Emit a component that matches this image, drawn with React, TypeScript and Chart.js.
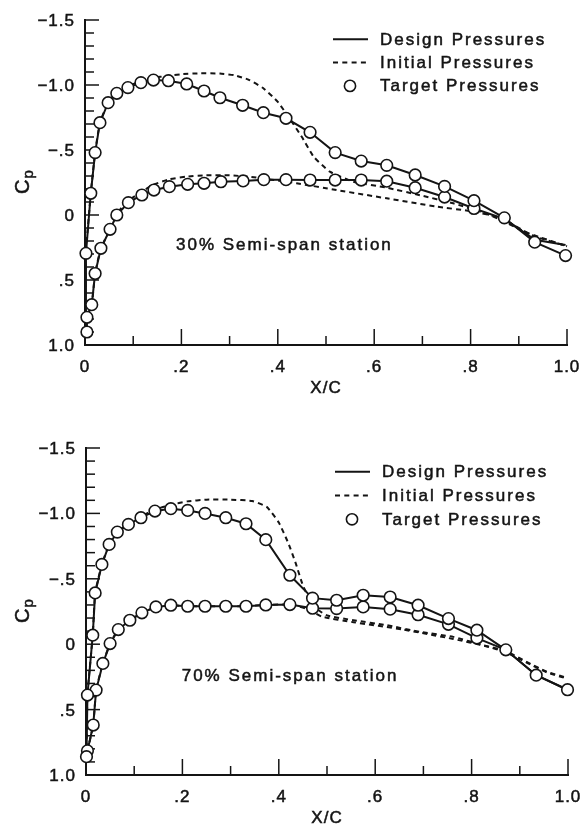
import React, { useEffect, useRef } from "react";
import { Chart, registerables } from "chart.js";

Chart.register(...registerables);

const FONT = '"Liberation Sans", Arial, Helvetica, sans-serif';
const INK = "#141414";

// Axis ticks and labels
const yTickValues = [-1.5, -1.0, -0.5, 0, 0.5, 1.0];
const yTickLabels = ["\u22121.5", "\u22121.0", "\u2212.5", "0", ".5", "1.0"];
const xTickValues = [0, 0.2, 0.4, 0.6, 0.8, 1.0];
const xTickLabels = ["0", ".2", ".4", ".6", ".8", "1.0"];
const legendLabels = ["Design Pressures", "Initial Pressures", "Target Pressures"];

// ---------- 30% semi-span station ----------
const s30TargetUpperX = [0.004, 0.002, 0.012, 0.021, 0.031, 0.048, 0.066, 0.089, 0.116, 0.142, 0.173, 0.211, 0.247, 0.280, 0.327, 0.370, 0.417, 0.467, 0.519, 0.573, 0.626, 0.685, 0.746, 0.807, 0.870, 0.933, 0.997];
const s30TargetUpperCp = [0.90, 0.295, -0.167, -0.48, -0.71, -0.864, -0.936, -0.98, -1.018, -1.038, -1.033, -1.008, -0.954, -0.902, -0.844, -0.787, -0.744, -0.636, -0.48, -0.415, -0.382, -0.308, -0.22, -0.11, 0.022, 0.209, 0.312];
const s30TargetLowerX = [0.004, 0.014, 0.021, 0.033, 0.052, 0.066, 0.090, 0.118, 0.143, 0.175, 0.213, 0.247, 0.282, 0.328, 0.371, 0.417, 0.467, 0.519, 0.573, 0.626, 0.685, 0.746, 0.807];
const s30TargetLowerCp = [0.787, 0.69, 0.45, 0.256, 0.11, 0.0, -0.095, -0.154, -0.192, -0.218, -0.236, -0.244, -0.256, -0.262, -0.272, -0.272, -0.269, -0.269, -0.269, -0.26, -0.21, -0.138, -0.05];

const s30DesignUpperX = [0.0, 0.002, 0.012, 0.021, 0.031, 0.048, 0.066, 0.089, 0.116, 0.142, 0.173, 0.211, 0.247, 0.280, 0.327, 0.370, 0.417, 0.467, 0.519, 0.573, 0.626, 0.685, 0.746, 0.807, 0.870, 0.933, 0.997];
const s30DesignUpperCp = [0.90, 0.295, -0.167, -0.48, -0.71, -0.864, -0.936, -0.98, -1.018, -1.038, -1.033, -1.008, -0.954, -0.902, -0.844, -0.787, -0.744, -0.636, -0.48, -0.415, -0.382, -0.308, -0.22, -0.11, 0.022, 0.209, 0.312];
const s30DesignLowerX = [0.004, 0.004, 0.014, 0.021, 0.033, 0.052, 0.066, 0.090, 0.118, 0.143, 0.175, 0.213, 0.247, 0.282, 0.328, 0.371, 0.417, 0.467, 0.519, 0.573, 0.626, 0.685, 0.746, 0.807, 0.870, 0.933, 0.997];
const s30DesignLowerCp = [0.90, 0.787, 0.69, 0.45, 0.256, 0.11, 0.0, -0.095, -0.154, -0.192, -0.218, -0.236, -0.244, -0.256, -0.262, -0.272, -0.272, -0.269, -0.269, -0.269, -0.26, -0.21, -0.138, -0.05, 0.03, 0.19, 0.23];

const s30InitialUpperX = [0.0, 0.002, 0.012, 0.021, 0.031, 0.048, 0.066, 0.089, 0.116, 0.142, 0.17, 0.20, 0.24, 0.28, 0.31, 0.34, 0.37, 0.40, 0.425, 0.45, 0.474, 0.508, 0.557, 0.626, 0.695, 0.764, 0.84, 0.92, 1.0];
const s30InitialUpperCp = [0.90, 0.295, -0.167, -0.48, -0.71, -0.866, -0.94, -0.99, -1.03, -1.055, -1.07, -1.083, -1.09, -1.088, -1.075, -1.04, -0.975, -0.87, -0.74, -0.60, -0.45, -0.333, -0.256, -0.21, -0.152, -0.09, 0.0, 0.14, 0.24];
const s30InitialLowerX = [0.004, 0.004, 0.014, 0.021, 0.033, 0.052, 0.066, 0.090, 0.118, 0.143, 0.175, 0.21, 0.25, 0.30, 0.34, 0.38, 0.439, 0.522, 0.626, 0.73, 0.80, 0.86, 0.93, 1.0];
const s30InitialLowerCp = [0.90, 0.787, 0.69, 0.45, 0.256, 0.11, -0.01, -0.11, -0.18, -0.235, -0.275, -0.295, -0.305, -0.305, -0.295, -0.275, -0.244, -0.192, -0.128, -0.064, -0.03, 0.02, 0.16, 0.24];

// ---------- 70% semi-span station ----------
const s70TargetUpperX = [0.001, 0.003, 0.014, 0.019, 0.033, 0.048, 0.065, 0.088, 0.114, 0.143, 0.176, 0.211, 0.247, 0.290, 0.332, 0.373, 0.423, 0.470, 0.520, 0.575, 0.631, 0.689, 0.752, 0.811, 0.871, 0.934, 0.999];
const s70TargetUpperCp = [0.86, 0.389, -0.069, -0.392, -0.61, -0.763, -0.857, -0.916, -0.967, -1.018, -1.036, -1.023, -1.0, -0.967, -0.921, -0.799, -0.527, -0.352, -0.336, -0.374, -0.361, -0.298, -0.196, -0.107, 0.043, 0.237, 0.348];
const s70TargetLowerX = [0.003, 0.015, 0.021, 0.035, 0.050, 0.067, 0.091, 0.116, 0.145, 0.176, 0.211, 0.247, 0.290, 0.332, 0.373, 0.423, 0.470, 0.520, 0.575, 0.631, 0.689, 0.752, 0.811];
const s70TargetLowerCp = [0.815, 0.618, 0.351, 0.147, -0.005, -0.112, -0.183, -0.24, -0.285, -0.298, -0.29, -0.29, -0.29, -0.29, -0.30, -0.303, -0.275, -0.272, -0.285, -0.268, -0.225, -0.152, -0.047];

const s70DesignUpperX = [0.001, 0.003, 0.014, 0.019, 0.033, 0.048, 0.065, 0.088, 0.114, 0.143, 0.176, 0.211, 0.247, 0.290, 0.332, 0.373, 0.423, 0.470, 0.520, 0.575, 0.631, 0.689, 0.752, 0.811, 0.871, 0.934, 0.999];
const s70DesignUpperCp = [0.86, 0.389, -0.069, -0.392, -0.61, -0.763, -0.857, -0.916, -0.967, -1.018, -1.036, -1.023, -1.0, -0.967, -0.921, -0.799, -0.527, -0.352, -0.336, -0.374, -0.361, -0.298, -0.196, -0.107, 0.043, 0.237, 0.348];
const s70DesignLowerX = [0.001, 0.003, 0.015, 0.021, 0.035, 0.050, 0.067, 0.091, 0.116, 0.145, 0.176, 0.211, 0.247, 0.290, 0.332, 0.373, 0.423, 0.470, 0.520, 0.575, 0.631, 0.689, 0.752, 0.811, 0.871, 0.934, 0.999];
const s70DesignLowerCp = [0.86, 0.815, 0.618, 0.351, 0.147, -0.005, -0.112, -0.183, -0.24, -0.285, -0.298, -0.29, -0.29, -0.29, -0.29, -0.30, -0.303, -0.275, -0.272, -0.285, -0.268, -0.225, -0.152, -0.047, 0.043, 0.237, 0.348];

const s70InitialUpperX = [0.001, 0.003, 0.014, 0.019, 0.033, 0.048, 0.065, 0.088, 0.114, 0.143, 0.176, 0.21, 0.25, 0.30, 0.345, 0.375, 0.40, 0.42, 0.435, 0.45, 0.472, 0.50, 0.555, 0.624, 0.693, 0.762, 0.824, 0.87, 0.914, 0.956, 0.995];
const s70InitialUpperCp = [0.86, 0.389, -0.069, -0.392, -0.61, -0.763, -0.857, -0.92, -0.975, -1.03, -1.065, -1.092, -1.105, -1.105, -1.095, -1.05, -0.93, -0.77, -0.62, -0.45, -0.29, -0.22, -0.183, -0.145, -0.094, -0.056, 0.008, 0.05, 0.135, 0.21, 0.254];
const s70InitialLowerX = [0.003, 0.015, 0.021, 0.035, 0.050, 0.067, 0.091, 0.116, 0.145, 0.176, 0.211, 0.25, 0.29, 0.33, 0.373, 0.423, 0.458, 0.49, 0.555, 0.658, 0.762, 0.83, 0.87, 0.914, 0.956, 0.995];
const s70InitialLowerCp = [0.815, 0.618, 0.351, 0.147, -0.005, -0.112, -0.183, -0.24, -0.285, -0.298, -0.29, -0.29, -0.29, -0.29, -0.30, -0.303, -0.27, -0.21, -0.168, -0.112, -0.04, 0.015, 0.06, 0.14, 0.215, 0.26];

function pts(xs: number[], cps: number[]) {
  return xs.map((x, i) => ({ x, y: cps[i] }));
}

function setSpacing(ctx: any, px: number) {
  if ("letterSpacing" in ctx) ctx.letterSpacing = `${px}px`;
}

// Filled text with a hairline stroke, giving the heavier print weight
function inkText(ctx: any, text: string, x: number, y: number) {
  ctx.fillText(text, x, y);
  ctx.lineWidth = 0.5;
  ctx.strokeText(text, x, y);
}

// Axes, ticks, labels, legend and station caption, drawn against the chart's scales
const paperPlugin = {
  id: "paper",
  beforeDatasetsDraw(chart: any) {
    const { ctx } = chart;
    const xs = chart.scales.x;
    const ys = chart.scales.y;
    const left = xs.getPixelForValue(0);
    const right = xs.getPixelForValue(1);
    const top = ys.getPixelForValue(-1.5);
    const bottom = ys.getPixelForValue(1.0);
    ctx.save();
    ctx.strokeStyle = INK;
    ctx.fillStyle = INK;
    ctx.lineCap = "butt";

    ctx.lineWidth = 1.5;
    for (let k = -15; k <= 10; k++) {
      const py = ys.getPixelForValue(k / 10);
      const len = k % 5 === 0 ? 14 : 9;
      ctx.beginPath();
      ctx.moveTo(left, py);
      ctx.lineTo(left + len, py);
      ctx.stroke();
    }
    for (let k = 1; k <= 10; k++) {
      const px = xs.getPixelForValue(k / 10);
      const len = k % 2 === 0 ? 16 : 9;
      ctx.beginPath();
      ctx.moveTo(px, bottom);
      ctx.lineTo(px, bottom - len);
      ctx.stroke();
    }

    ctx.lineWidth = 2;
    ctx.beginPath();
    ctx.moveTo(left, top - 1);
    ctx.lineTo(left, bottom);
    ctx.lineTo(right + 1, bottom);
    ctx.stroke();

    ctx.font = `17px ${FONT}`;
    setSpacing(ctx, 1);
    ctx.textBaseline = "alphabetic";
    ctx.textAlign = "right";
    yTickValues.forEach((v, i) => {
      inkText(ctx, yTickLabels[i], left - 10, ys.getPixelForValue(v) + 6);
    });
    ctx.textAlign = "center";
    xTickValues.forEach((v, i) => {
      inkText(ctx, xTickLabels[i], xs.getPixelForValue(v), bottom + 27);
    });
    inkText(ctx, "X/C", (left + right) / 2, bottom + 48);

    // rotated C with subscript p
    setSpacing(ctx, 0);
    ctx.save();
    ctx.translate(29, (top + bottom) / 2);
    ctx.rotate(-Math.PI / 2);
    ctx.textAlign = "left";
    ctx.font = `20px ${FONT}`;
    const wC = ctx.measureText("C").width;
    ctx.font = `15px ${FONT}`;
    const wP = ctx.measureText("p").width;
    const start = -(wC + wP) / 2;
    ctx.font = `20px ${FONT}`;
    inkText(ctx, "C", start, 0);
    ctx.font = `15px ${FONT}`;
    inkText(ctx, "p", start + wC + 1, 4);
    ctx.restore();
    ctx.restore();
  },
  afterDatasetsDraw(chart: any, _args: any, opts: any) {
    const { ctx } = chart;
    ctx.save();
    ctx.strokeStyle = INK;
    ctx.fillStyle = INK;
    const lx = opts.legendX;
    const sampleW = 35;
    legendLabels.forEach((label, i) => {
      const ry = opts.legendY + i * opts.legendStep;
      ctx.lineWidth = 2;
      if (i === 0) {
        ctx.setLineDash([]);
        ctx.beginPath();
        ctx.moveTo(lx, ry);
        ctx.lineTo(lx + sampleW, ry);
        ctx.stroke();
      } else if (i === 1) {
        ctx.setLineDash([5, 4.3]);
        ctx.beginPath();
        ctx.moveTo(lx, ry);
        ctx.lineTo(lx + sampleW, ry);
        ctx.stroke();
        ctx.setLineDash([]);
      } else {
        ctx.lineWidth = 1.6;
        ctx.fillStyle = "#fff";
        ctx.beginPath();
        ctx.arc(lx + 17, ry, 5.6, 0, Math.PI * 2);
        ctx.fill();
        ctx.stroke();
        ctx.fillStyle = INK;
      }
      ctx.font = `17px ${FONT}`;
      setSpacing(ctx, 2);
      ctx.textAlign = "left";
      ctx.textBaseline = "alphabetic";
      inkText(ctx, label, lx + 47, ry + 5.5);
      setSpacing(ctx, 0);
    });
    ctx.font = `17px ${FONT}`;
    setSpacing(ctx, 2);
    ctx.textAlign = "left";
    inkText(ctx, opts.station, opts.stationX, opts.stationY);
    ctx.restore();
  },
};

type PanelProps = {
  designUpper: { x: number; y: number }[];
  designLower: { x: number; y: number }[];
  initialUpper: { x: number; y: number }[];
  initialLower: { x: number; y: number }[];
  targetUpper: { x: number; y: number }[];
  targetLower: { x: number; y: number }[];
  width: number;
  height: number;
  padding: { left: number; right: number; top: number; bottom: number };
  decor: any;
};

function lineSet(data: any[], dashed: boolean) {
  return {
    data,
    showLine: true,
    borderColor: INK,
    borderWidth: 2,
    borderDash: dashed ? [5, 4] : [],
    pointRadius: 0,
    tension: dashed ? 0.15 : 0,
    fill: false,
    clip: false,
    order: dashed ? 3 : 2,
  };
}

function targetSet(data: any[]) {
  return {
    data,
    showLine: false,
    pointRadius: 5.8,
    pointBorderWidth: 1.6,
    borderWidth: 1.6,
    pointBackgroundColor: "#ffffff",
    backgroundColor: "#ffffff",
    pointBorderColor: INK,
    borderColor: INK,
    clip: false,
    order: 1,
  };
}

function PressurePanel(props: PanelProps) {
  const ref = useRef<HTMLCanvasElement | null>(null);
  useEffect(() => {
    if (!ref.current) return;
    const chart = new Chart(ref.current, {
      type: "scatter",
      data: {
        datasets: [
          targetSet(props.targetUpper),
          targetSet(props.targetLower),
          lineSet(props.designUpper, false),
          lineSet(props.designLower, false),
          lineSet(props.initialUpper, true),
          lineSet(props.initialLower, true),
        ] as any,
      },
      options: {
        responsive: false,
        animation: false,
        events: [],
        layout: { padding: props.padding },
        plugins: {
          legend: { display: false },
          tooltip: { enabled: false },
          paper: props.decor,
        } as any,
        scales: {
          x: { type: "linear", min: 0, max: 1, display: false },
          y: { type: "linear", min: -1.5, max: 1.0, reverse: true, display: false },
        },
      },
      plugins: [paperPlugin as any],
    });
    return () => chart.destroy();
  }, []);
  return (
    <canvas
      ref={ref}
      width={props.width}
      height={props.height}
      style={{ display: "block", width: props.width, height: props.height }}
    />
  );
}

export default function App() {
  return (
    <div style={{ position: "absolute", left: 0, top: 0, width: 582, height: 825, background: "#fff" }}>
      <PressurePanel
        targetUpper={pts(s30TargetUpperX, s30TargetUpperCp)}
        targetLower={pts(s30TargetLowerX, s30TargetLowerCp)}
        designUpper={pts(s30DesignUpperX, s30DesignUpperCp)}
        designLower={pts(s30DesignLowerX, s30DesignLowerCp)}
        initialUpper={pts(s30InitialUpperX, s30InitialUpperCp)}
        initialLower={pts(s30InitialLowerX, s30InitialLowerCp)}
        width={582}
        height={410}
        padding={{ left: 85, right: 15, top: 20, bottom: 65 }}
        decor={{ legendX: 333, legendY: 39.3, legendStep: 23.3, station: "30% Semi-span station", stationX: 176, stationY: 250 }}
      />
      <PressurePanel
        targetUpper={pts(s70TargetUpperX, s70TargetUpperCp)}
        targetLower={pts(s70TargetLowerX, s70TargetLowerCp)}
        designUpper={pts(s70DesignUpperX, s70DesignUpperCp)}
        designLower={pts(s70DesignLowerX, s70DesignLowerCp)}
        initialUpper={pts(s70InitialUpperX, s70InitialUpperCp)}
        initialLower={pts(s70InitialLowerX, s70InitialLowerCp)}
        width={582}
        height={415}
        padding={{ left: 86, right: 14, top: 38, bottom: 50 }}
        decor={{ legendX: 335, legendY: 61.7, legendStep: 23.8, station: "70% Semi-span station", stationX: 181.7, stationY: 270.7 }}
      />
    </div>
  );
}
